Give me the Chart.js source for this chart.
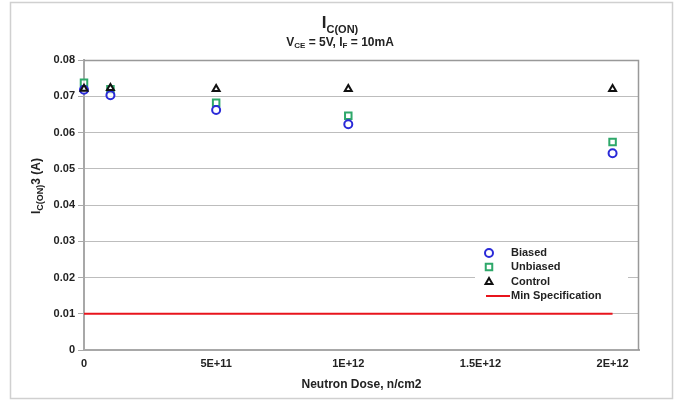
<!DOCTYPE html>
<html>
<head>
<meta charset="utf-8">
<script src="https://cdn.jsdelivr.net/npm/chart.js@4"></script>
<style>
  html, body { margin: 0; padding: 0; background: #fff; }
  #wrap { width: 676px; height: 400px; position: relative; }
</style>
</head>
<body>
<div id="wrap"><canvas id="c" width="676" height="400"></canvas></div>
<script>
// ---- Data ----
const doses = [0, 1e11, 5e11, 1e12, 2e12];
const biased = [0.0718, 0.0703, 0.0662, 0.0623, 0.0543];
const unbiased = [0.0737, 0.0719, 0.0682, 0.0646, 0.0574];
const control = [0.0721, 0.0723, 0.0720, 0.0720, 0.0720];
const minSpecDose = [0, 2e12];
const minSpec = [0.01, 0.01];
const seriesLabels = ['Biased', 'Unbiased', 'Control', 'Min Specification'];
const yTicks = [0, 0.01, 0.02, 0.03, 0.04, 0.05, 0.06, 0.07, 0.08];
const xTickLabels = {0: '0', 5e11: '5E+11', 1e12: '1E+12', 1.5e12: '1.5E+12', 2e12: '2E+12'};

const FONT = '"Liberation Sans", Arial, sans-serif';
const TXT = '#222';

function pts(xs, ys) { return xs.map((x, i) => ({x: x, y: ys[i]})); }

const frameAndTitles = {
  id: 'frameAndTitles',
  beforeDraw(chart) {
    const ctx = chart.ctx;
    ctx.save();
    ctx.fillStyle = '#fff';
    ctx.fillRect(0, 0, chart.width, chart.height);
    ctx.strokeStyle = '#d0d0d0';
    ctx.lineWidth = 1.5;
    ctx.strokeRect(10.5, 2.5, 662, 396);
    ctx.restore();
  },
  beforeDatasetsDraw(chart) {
    const ctx = chart.ctx;
    const a = chart.chartArea;
    ctx.save();
    ctx.strokeStyle = '#999';
    ctx.lineWidth = 1.5;
    ctx.beginPath();
    ctx.moveTo(a.left, a.top + 0.5);
    ctx.lineTo(a.right - 0.5, a.top + 0.5);
    ctx.lineTo(a.right - 0.5, a.bottom);
    ctx.stroke();
    ctx.restore();
  },
  afterDraw(chart) {
    const ctx = chart.ctx;
    ctx.save();
    ctx.fillStyle = TXT;
    ctx.textBaseline = 'alphabetic';
    function runs(parts, cx, baseY) {
      let w = 0;
      parts.forEach(p => { ctx.font = 'bold ' + p.s + 'px ' + FONT; p.w = ctx.measureText(p.t).width; w += p.w; });
      let x = cx - w / 2;
      parts.forEach(p => {
        ctx.font = 'bold ' + p.s + 'px ' + FONT;
        ctx.textAlign = 'left';
        ctx.fillText(p.t, x, baseY + (p.dy || 0));
        x += p.w;
      });
    }
    // Title
    runs([{t: 'I', s: 17}, {t: 'C(ON)', s: 11, dy: 5}], 340, 28);
    // Subtitle
    runs([{t: 'V', s: 12}, {t: 'CE', s: 8, dy: 2}, {t: ' = 5V, I', s: 12}, {t: 'F', s: 8, dy: 2}, {t: ' = 10mA', s: 12}], 340, 46);
    // Y axis title (rotated)
    ctx.save();
    ctx.translate(40, 186);
    ctx.rotate(-Math.PI / 2);
    runs([{t: 'I', s: 12}, {t: 'C(ON)', s: 9, dy: 3}, {t: '3 (A)', s: 12}], 0, 0);
    ctx.restore();

    // Legend
    const lx = 475, ly = 243;
    ctx.fillStyle = '#fff';
    ctx.fillRect(lx, ly, 153, 60);
    const rowY = [253, 267, 282, 296];
    const ds = chart.data.datasets;
    const symX = 489;
    for (let i = 0; i < 4; i++) {
      const d = ds[i];
      if (i < 3) {
        ctx.save();
        ctx.strokeStyle = d.borderColor;
        ctx.fillStyle = d.pointBackgroundColor;
        ctx.lineWidth = d.borderWidth;
        Chart.helpers.drawPoint(ctx, {
          pointStyle: d.pointStyle, radius: d.pointRadius, borderWidth: d.borderWidth, rotation: 0
        }, symX, rowY[i]);
        ctx.restore();
      } else {
        ctx.strokeStyle = d.borderColor;
        ctx.lineWidth = 2;
        ctx.beginPath();
        ctx.moveTo(486, rowY[i]);
        ctx.lineTo(510, rowY[i]);
        ctx.stroke();
      }
      ctx.fillStyle = TXT;
      ctx.font = 'bold 11px ' + FONT;
      ctx.textAlign = 'left';
      ctx.textBaseline = 'middle';
      ctx.fillText(d.label, 511, rowY[i]);
    }
    ctx.restore();
  }
};

new Chart(document.getElementById('c'), {
  type: 'scatter',
  data: {
    datasets: [
      { label: seriesLabels[0], data: pts(doses, biased), pointStyle: 'circle', pointRadius: 4,
        borderColor: '#2a2ad8', pointBackgroundColor: 'rgba(255,255,255,0.7)', backgroundColor: 'rgba(255,255,255,0.7)', borderWidth: 2, order: 1, clip: false },
      { label: seriesLabels[1], data: pts(doses, unbiased), pointStyle: 'rect', pointRadius: 4.6,
        borderColor: '#2ea86a', pointBackgroundColor: 'rgba(255,255,255,0.7)', backgroundColor: 'rgba(255,255,255,0.7)', borderWidth: 2, order: 2, clip: false },
      { label: seriesLabels[2], data: pts(doses, control), pointStyle: 'triangle', pointRadius: 4,
        borderColor: '#111', pointBackgroundColor: 'rgba(255,255,255,0.7)', backgroundColor: 'rgba(255,255,255,0.7)', borderWidth: 2, order: 0, clip: false },
      { label: seriesLabels[3], data: pts(minSpecDose, minSpec), showLine: true, pointRadius: 0,
        borderColor: '#e8141c', backgroundColor: '#e8141c', borderWidth: 2, order: 3 }
    ]
  },
  options: {
    responsive: false,
    animation: false,
    layout: { padding: { left: 0, right: 37, top: 60, bottom: 0 } },
    plugins: { legend: { display: false }, tooltip: { enabled: false }, title: { display: false } },
    scales: {
      x: {
        type: 'linear', min: 0, max: 2.1e12,
        afterFit(s) { s.height = 50; },
        afterBuildTicks(s) { s.ticks = Object.keys(xTickLabels).map(v => ({value: Number(v)})); },
        grid: { display: false, drawTicks: false, tickLength: 0 },
        border: { display: true, color: '#a8a8a8', width: 2 },
        ticks: {
          padding: 7, color: TXT, font: { family: FONT, size: 11, weight: 'bold' },
          maxRotation: 0, autoSkip: false,
          callback: (v) => xTickLabels[v] !== undefined ? xTickLabels[v] : ''
        },
        title: { display: true, text: 'Neutron Dose, n/cm2', color: TXT,
          font: { family: FONT, size: 12, weight: 'bold' }, padding: { top: 0, bottom: 8 } }
      },
      y: {
        type: 'linear', min: 0, max: 0.08,
        afterFit(s) { s.width = 84; },
        afterBuildTicks(s) { s.ticks = yTicks.map(v => ({value: v})); },
        grid: { color: '#bdbdbd', lineWidth: 1, tickLength: 6, tickColor: '#a8a8a8' },
        border: { display: true, color: '#a8a8a8', width: 2 },
        ticks: {
          padding: 3, color: TXT, font: { family: FONT, size: 11, weight: 'bold' },
          callback: (v) => String(Math.round(v * 100) / 100)
        }
      }
    }
  },
  plugins: [frameAndTitles]
});
</script>
</body>
</html>
